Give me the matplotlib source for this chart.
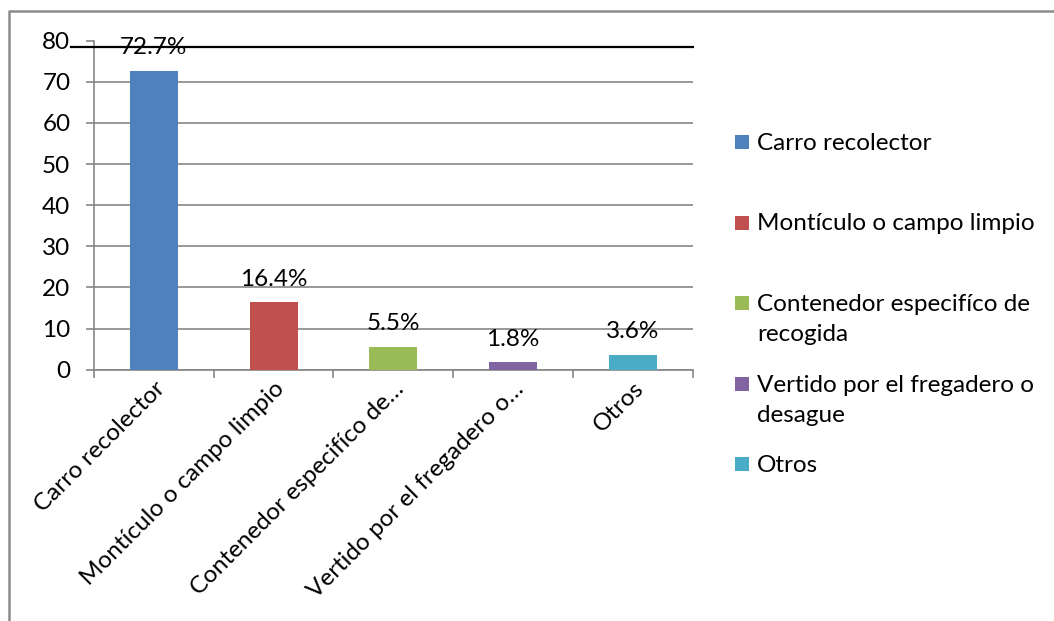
import matplotlib.pyplot as plt
from matplotlib.lines import Line2D
from matplotlib.patches import Rectangle

# Data
categories = ["Carro recolector", "Montículo o campo limpio",
              "Contenedor especifíco de recogida",
              "Vertido por el fregadero o desague", "Otros"]
tick_labels = ["Carro recolector", "Montículo o campo limpio",
               "Contenedor especifíco de…", "Vertido por el fregadero o…", "Otros"]
legend_labels = ["Carro recolector", "Montículo o campo limpio",
                 "Contenedor especifíco de\nrecogida",
                 "Vertido por el fregadero o\ndesague", "Otros"]
values = [72.7, 16.4, 5.5, 1.8, 3.6]
colors = ["#4F81BD", "#C0504D", "#9BBB59", "#8064A2", "#4BACC6"]

plt.rcParams['font.family'] = ['Lato', 'DejaVu Sans']
FS = 17.5
W, H = 1054, 621

fig = plt.figure(figsize=(W / 100, H / 100), dpi=100)
ax = fig.add_axes([94 / W, 1 - 369.7 / H, (692.7 - 94) / W, (369.7 - 40.6) / H])

x = list(range(len(values)))
ax.bar(x, values, width=0.4, color=colors, zorder=3)
for i, v in enumerate(values):
    ax.annotate(f"{v}%", (i, v), xytext=(0, 12), textcoords='offset points',
                ha='center', va='baseline', fontsize=FS, color='#000000', zorder=4)

ax.set_xlim(-0.5, len(values) - 0.5)
ax.set_ylim(0, 80)
ax.set_yticks(range(0, 81, 10))
ax.tick_params(axis='y', labelsize=FS, length=6, width=1.2, color='#868686', pad=11)

ax.set_xticks(x)
ax.set_xticklabels(tick_labels, rotation=45, ha='right', va='top',
                   rotation_mode='anchor', fontsize=FS)
ax.set_xticks([i - 0.5 for i in range(len(values) + 1)], minor=True)
ax.tick_params(axis='x', which='major', length=0, pad=6)
ax.tick_params(axis='x', which='minor', length=6, width=1.2, color='#868686')

ax.yaxis.grid(True, color='#868686', linewidth=1.2, zorder=0)
ax.set_axisbelow(True)
ax.yaxis.get_gridlines()[-1].set_visible(False)
for side in ['top', 'right']:
    ax.spines[side].set_visible(False)
for side in ['left', 'bottom']:
    ax.spines[side].set_color('#868686')
    ax.spines[side].set_linewidth(1.2)

# black line across the top
fig.add_artist(Line2D([71 / W, 692.7 / W], [1 - 46.7 / H, 1 - 46.7 / H],
                      color='black', linewidth=1.6))

# chart frame (only top and left edges visible)
fig.add_artist(Line2D([9 / W, 9 / W, 1.0], [0.0, 1 - 11 / H, 1 - 11 / H],
                      color='#8C8C8C', linewidth=1.8))

# legend drawn by hand, handle next to the first line
for i, (lab, col) in enumerate(zip(legend_labels, colors)):
    yc = 142 + 80.5 * i
    fig.add_artist(Rectangle((735 / W, 1 - (yc + 7) / H), 14 / W, 14 / H,
                             facecolor=col, edgecolor='none'))
    for j, line in enumerate(lab.split("\n")):
        fig.text(757 / W, 1 - (yc + 8 + 30 * j) / H, line, fontsize=FS,
                 ha='left', va='baseline')

fig.savefig("out.png", dpi=100)
